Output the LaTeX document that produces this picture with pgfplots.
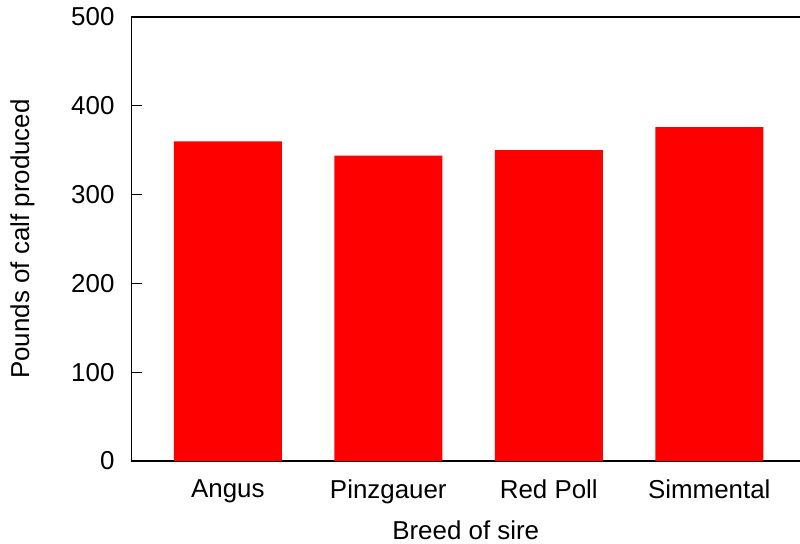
\documentclass[border=0pt]{standalone}
\usepackage{fontspec}
\setmainfont{Liberation Sans}
\usepackage{pgfplots}
\pgfplotsset{compat=1.18}
\begin{document}
\begin{tikzpicture}
\begin{axis}[
  scale only axis,
  width=334.25bp, height=222bp,
  xmin=-0.6, xmax=3.565,
  ymin=0, ymax=500,
  axis x line*=bottom,
  axis y line*=left,
  axis line style={black, line width=0.6bp},
  x axis line style={-}, y axis line style={-},
  xtick={0,1,2,3},
  xticklabels={Angus, Pinzgauer, Red Poll, Simmental},
  major x tick style={draw=none},
  ytick={0,100,200,300,400,500},
  tick align=inside,
  major tick length=5.25bp,
  y tick style={black, line width=0.5bp},
  tick label style={font=\fontsize{13}{15}\selectfont},
  /pgf/number format/assume math mode=true,
  yticklabel style={xshift=-5bp},
  xticklabel style={yshift=-6bp},
  ylabel={Pounds of calf produced},
  xlabel={Breed of sire},
  label style={font=\fontsize{13}{15}\selectfont},
  ylabel style={at={(axis description cs:-0.163,0.5)}, anchor=center},
  xlabel style={at={(axis description cs:0.5,-0.155)}, anchor=center},
  clip=false,
]
\addplot[ybar, bar width=54bp, fill=red, draw=none] coordinates {
  (0,360) (1,344) (2,350) (3,376)
};
\draw[black, line width=0.6bp] (rel axis cs:0,1) -- (rel axis cs:1,1);
\coordinate (O) at (rel axis cs:0,0);
\end{axis}
\pgfresetboundingbox
\path (O) ++(-65.75bp,-41.5bp) rectangle ++(400bp,272bp);
\end{tikzpicture}
\end{document}
